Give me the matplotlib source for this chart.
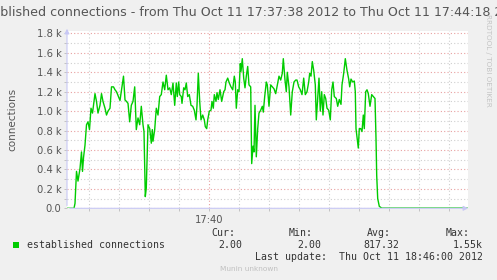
import matplotlib
matplotlib.use("Agg")
import matplotlib.pyplot as plt
from matplotlib.ticker import FixedLocator, FixedFormatter

# seconds since 17:37:38 and established connections
secs = [0, 7, 8, 9.5, 11, 13, 14.5, 15.5, 16.5, 18, 19.5, 21, 22.5, 24, 25.5, 26.5, 28, 29.5,
        31, 33, 34.5, 36, 38, 39.5, 41, 43, 44.5, 46.5, 48, 49.5, 51.5, 53, 54.5, 56.5, 58,
        59.5, 61, 62.7, 64.3, 66, 67.7, 69.3, 71, 72.7, 74.3, 76, 77, 78.3, 79.3, 81, 82.7,
        84.3, 85.3, 86, 87.7, 89.3, 91, 92.7, 94.3, 96, 97.7, 99.3, 101, 102.7, 104.3, 106,
        107.7, 109.3, 110.3, 111.7, 112.7, 114.3, 115, 116.7, 118, 119.3, 120.7, 122.3, 124,
        125.7, 127.3, 129, 130, 131.3, 132.7, 134, 135.7, 137.3, 138.3, 139.7, 140.7, 142.3,
        144, 145, 146.3, 147.3, 149, 150, 151.3, 153, 154.7, 156.7, 158, 159, 160.7, 162.3,
        164, 165.7, 167.3, 168.3, 169.3, 170.7, 172, 173.3, 174, 175.3, 176.7, 178, 179.3,
        180.7, 182, 183.7, 184.7, 186, 187, 188, 189.3, 190.7, 192, 193.7, 195.3, 196.3,
        197.7, 199.3, 200.3, 202, 203.7, 205.3, 207, 208.7, 210.3, 212, 213.7, 215.3, 216.3,
        218, 219.3, 220.3, 222, 223.7, 225.3, 227, 228.7, 230, 231.7, 233.3, 235, 236.7,
        238.3, 240, 241.7, 242.7, 244, 245.3, 246.7, 248.3, 249.3, 250.7, 252, 253.3, 254.7,
        256, 257.3, 258.7, 260, 261.7, 263.3, 264.7, 266, 267.3, 269.3, 270.7, 272.3, 274,
        275, 276.7, 278.3, 280, 281.7, 282.7, 284, 285.7, 287.3, 288.3, 289, 290.3, 291.3,
        292.3, 293.7, 295, 296.3, 297.3, 298.7, 300, 301.3, 303, 304.7, 306.3, 308, 309,
        309.7, 310.7, 312.3, 314.7, 400]
conns = [0, 0, 50, 380, 280, 410, 580, 380, 520, 650, 860, 890, 810, 1030, 980, 1060, 1180, 1100,
         980, 1060, 1180, 1100, 1030, 960, 1000, 1030, 1250, 1250, 1220, 1200, 1150, 1110, 1220, 1360, 1115,
         1100, 1080, 890, 1060, 1100, 1250, 810, 930, 860, 1050, 860, 790, 120, 210, 860, 820,
         670, 810, 690, 810, 1030, 960, 1150, 1170, 1300, 1220, 1370, 1220, 1240, 1170, 1290,
         1060, 1290, 1150, 1300, 1170, 1150, 1080, 1240, 1220, 1290, 1150, 1170, 1060,
         1050, 1010, 910, 1060, 1390, 1100, 910, 960, 910, 840, 820, 910, 1000,
         1010, 1100, 1030, 1170, 1100, 1190, 1120, 1220, 1100, 1200, 1220, 1300, 1340, 1290,
         1250, 1220, 1360, 1300, 1030, 1220, 1200, 1490, 1410, 1540, 1340, 1240, 1360,
         1460, 1270, 1250, 460, 640, 580, 1060, 530, 820, 980, 1010, 1050, 990,
         1150, 1300, 1270, 1050, 1270, 1250, 1230, 1180, 1270, 1360, 1320, 1390, 1540,
         1320, 1200, 1400, 1250, 960, 1200, 1300, 1320, 1320, 1250, 1220, 1170, 1340,
         1170, 1200, 1300, 1390, 1360, 1510, 1420, 1270, 910, 1130, 1340, 1000, 1200,
         960, 1170, 1130, 1030, 1010, 910, 1220, 1300, 1150, 1130, 1050, 1120, 1070,
         1270, 1390, 1540, 1420, 1330, 1250, 1330, 1300, 1310, 1200, 820, 710, 620,
         820, 820, 790, 960, 820, 1200, 1220, 1180, 1050, 1170, 1150, 1130, 720,
         340, 100, 20, 2, 2]

ytick_vals = [0, 200, 400, 600, 800, 1000, 1200, 1400, 1600, 1800]
ytick_labels = ["0.0", "0.2 k", "0.4 k", "0.6 k", "0.8 k", "1.0 k", "1.2 k", "1.4 k", "1.6 k", "1.8 k"]
xtick_vals = [142]
xtick_labels = ["17:40"]

W, H = 497, 280
fig = plt.figure(figsize=(W / 100, H / 100), dpi=100)
fig.patch.set_facecolor("#f0f0f0")

x0, y0, x1, y1 = 67, 208.3, 467.7, 30.5
ax = fig.add_axes([x0 / W, 1 - y0 / H, (x1 - x0) / W, (y0 - y1) / H])
ax.set_facecolor("white")
ax.set_xlim(0, 400.7)
ax.set_ylim(0, 1830)
for s in ax.spines.values():
    s.set_visible(False)

ax.xaxis.set_major_locator(FixedLocator(xtick_vals))
ax.xaxis.set_major_formatter(FixedFormatter(xtick_labels))
ax.xaxis.set_minor_locator(FixedLocator([22 + 30 * i for i in range(13)]))
ax.yaxis.set_major_locator(FixedLocator(ytick_vals))
ax.yaxis.set_major_formatter(FixedFormatter(ytick_labels))
ax.yaxis.set_minor_locator(FixedLocator([100 + 200 * i for i in range(9)]))

ax.grid(True, which="major", color="#e8a0a0", linestyle=(0, (1, 2)), linewidth=0.8)
ax.grid(True, which="minor", color="#cfcfcf", linestyle=(0, (1, 2)), linewidth=0.8)
ax.tick_params(which="both", length=2, width=0.6, color="#bbbbbb", labelsize=7.2,
               labelcolor="#555555", pad=2)
ax.tick_params(axis="x", which="both", pad=3)

ax.plot(secs, conns, color="#00cc00", linewidth=1.0, zorder=3)

ax.set_ylabel("connections", fontsize=7.5, color="#555555")
ax.yaxis.set_label_coords(-0.124, 0.5)

# axis lines with arrowheads
axis_col = "#c8c8f5"
ax.annotate("", xy=(471 / W, 1 - y0 / H), xytext=(x0 / W, 1 - y0 / H),
            xycoords="figure fraction", textcoords="figure fraction",
            arrowprops=dict(arrowstyle="-|>", color=axis_col, lw=0.8, mutation_scale=7))
ax.annotate("", xy=(x0 / W, 1 - 26 / H), xytext=(x0 / W, 1 - y0 / H),
            xycoords="figure fraction", textcoords="figure fraction",
            arrowprops=dict(arrowstyle="-|>", color=axis_col, lw=0.8, mutation_scale=7))

# the title is wider than the image in the original too, so both ends are cut
fig.text(249.5 / W, 1 - 13 / H,
         "established connections - from Thu Oct 11 17:37:38 2012 to Thu Oct 11 17:44:18 2012",
         ha="center", va="center", fontsize=9.1, color="#555555")
fig.text(488 / W, 1 - 14 / H, "RRDTOOL / TOBI OETIKER", rotation=270, ha="center", va="top",
         fontsize=5.2, color="#c4c4c4")

mono = dict(family="DejaVu Sans Mono", fontsize=7.1, color="#333333", va="center")
fig.patches.append(plt.Rectangle((13 / W, 1 - 248 / H), 6 / W, 6 / H, transform=fig.transFigure,
                                 facecolor="#00cc00", edgecolor="none"))
fig.text(27 / W, 1 - 245 / H, "established connections", ha="left", **mono)
heads = ["Cur:", "Min:", "Avg:", "Max:"]
head_x = [235, 313, 391, 470]
vals = ["2.00", "2.00", "817.32", "1.55k"]
val_x = [242, 321, 399, 483]
for h, hx in zip(heads, head_x):
    fig.text(hx / W, 1 - 233.5 / H, h, ha="right", **mono)
for v, vx in zip(vals, val_x):
    fig.text(vx / W, 1 - 245 / H, v, ha="right", **mono)
fig.text(483 / W, 1 - 257 / H, "Last update:  Thu Oct 11 18:46:00 2012", ha="right", **mono)
fig.text(249 / W, 1 - 269 / H, "Munin unknown", ha="center", va="center", fontsize=5.3,
         color="#c0c0c0")

fig.savefig("out.png", dpi=100, facecolor=fig.get_facecolor())
